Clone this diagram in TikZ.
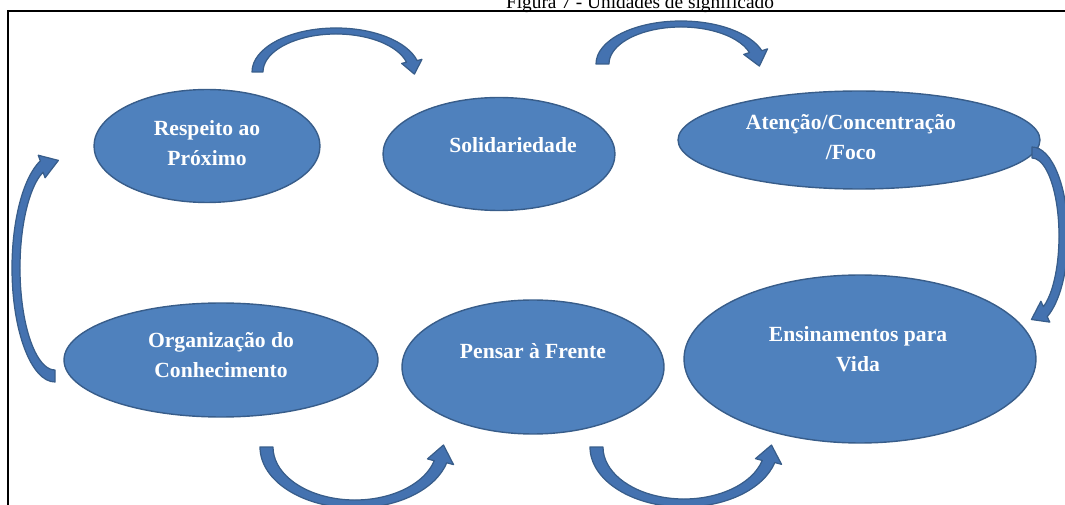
\documentclass[tikz,border=0pt]{standalone}
\usepackage{fontspec}
\setmainfont{Liberation Serif}
\usetikzlibrary{shapes.geometric,calc}
\definecolor{nodeblue}{RGB}{79,129,189}
\definecolor{bordblue}{RGB}{56,93,138}
\definecolor{arrowblue}{RGB}{68,114,176}

% curved block arrow: centre, outer radii, inner radii, start, head base, tip angle, head overhang
\newcommand{\bentarrow}[9]{%
  \pgfmathsetmacro\rxhi{#2+#9}\pgfmathsetmacro\ryhi{#3+#9}%
  \pgfmathsetmacro\rxlo{#4-#9}\pgfmathsetmacro\rylo{#5-#9}%
  \pgfmathsetmacro\rxmid{(#2+#4)/2}\pgfmathsetmacro\rymid{(#3+#5)/2}%
  \filldraw[bendarrow] ($(#1)+({#2*cos(#6)},{#3*sin(#6)})$)
    arc[start angle=#6, end angle=#7, x radius=#2, y radius=#3]
    -- ($(#1)+({\rxhi*cos(#7)},{\ryhi*sin(#7)})$)
    -- ($(#1)+({\rxmid*cos(#8)},{\rymid*sin(#8)})$)
    -- ($(#1)+({\rxlo*cos(#7)},{\rylo*sin(#7)})$)
    -- ($(#1)+({#4*cos(#7)},{#5*sin(#7)})$)
    arc[start angle=#7, end angle=#6, x radius=#4, y radius=#5] -- cycle;}

\begin{document}
\begin{tikzpicture}[x=0.02cm,y=0.02cm,
  blob/.style={ellipse, draw=bordblue, fill=nodeblue, line width=0.8pt, inner sep=0pt},
  lbl/.style={text=white, font=\bfseries\fontsize{12.3}{17}\selectfont, align=center},
  bendarrow/.style={fill=arrowblue, draw=bordblue, line width=0.7pt, line join=round}]
\useasboundingbox (0,0) rectangle (1065,504);

% caption and frame
\node[anchor=base, font=\fontsize{11}{13}\selectfont] (title) at (640,495) {Figura 7 - Unidades de significado};
\draw[line width=1pt] (8,-10) rectangle (1080,493);

% the six units
\node[blob, minimum width=4.52cm, minimum height=2.26cm] (resp) at (207,358) {};
\node[blob, minimum width=4.64cm, minimum height=2.26cm] (soli) at (499,350) {};
\node[blob, minimum width=7.24cm, minimum height=1.96cm] (aten) at (859,364) {};
\node[blob, minimum width=6.28cm, minimum height=2.28cm] (org) at (221,144) {};
\node[blob, minimum width=5.24cm, minimum height=2.68cm] (pens) at (533,137) {};
\node[blob, minimum width=7.04cm, minimum height=3.36cm] (ens) at (860,145) {};

\node[lbl] (respt) at (207,361) {Respeito ao\\Próximo};
\node[lbl] (solit) at (513,359) {Solidariedade};
\node[lbl] (atent) at (851,367) {Atenção/Concentração\\/Foco};
\node[lbl] (orgt) at (221,149) {Organização do\\Conhecimento};
\node[lbl] (penst) at (533,153) {Pensar à Frente};
\node[lbl] (enst) at (858,155) {Ensinamentos para\\Vida};

% arrows round the cycle
\bentarrow{336,432}{84}{44}{73}{38}{180}{15}{-3}{5}
\bentarrow{681,440}{85}{43}{72}{37}{180}{18}{-3}{6}
\bentarrow{1032,268}{36}{89}{27}{78}{90}{-65}{-91}{6}
\bentarrow{355,57}{95}{61}{82}{53}{180}{345}{362}{7}
\bentarrow{684,57}{94}{60}{81}{52}{180}{345}{362}{7}
\bentarrow{55,236}{43}{114}{35}{102}{270}{110}{85}{6}
\end{tikzpicture}
\end{document}
